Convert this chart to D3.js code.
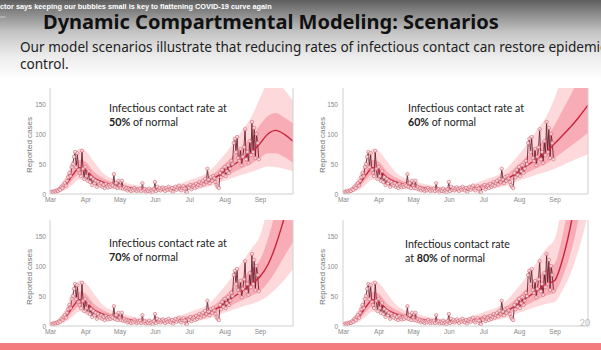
<!DOCTYPE html>
<html><head><meta charset="utf-8">
<script src="https://cdn.jsdelivr.net/npm/d3@7"></script>
<style>body{margin:0;background:#fff;overflow:hidden} svg{display:block}</style>
</head><body>
<script>
// ---------------- DATA ----------------
const observedStart = "2020-03-01";
const observedCases = [
  // March
  3,2,4,3,5,4,6,5,8,7, 12,10,15,18,14,22, 28,35,30,45,50, 62,70,45,68,40, 35,30,72,42,25,
  // April
  45,30,22,38,20,28,15,25,18,22, 12,20,16,14,18,12,15,10,17,13, 11,15,12,16,14,33,12,18,10,22,
  // May
  14,10,22,9,12,8,10,6,9,7, 5,8,6,10,7,5,8,6,9,5, 18,6,8,4,7,5,9,4,6,3,8,
  // June
  20,5,12,7,10,6,9,11,8,5, 10,7,12,8,6,10,4,9,12,7, 11,14,8,6,10,13,9,4,3,12,
  // July
  10,15,8,12,14,10,17,12,15,20, 14,18,22,16,25,20,42,24,18,28, 22,30,26,20,15,12,10,35,28,40,32,
  // August
  45,30,38,48,35,42,55,50,85,92, 70,95,60,55,75,48,62,78,108,58, 70,52,88,65,120,70,110,60,100,85,58
];
const fitDays     = [0, 7, 14, 20, 26, 31, 38, 46, 53, 61, 70, 80, 92, 106, 122, 139, 153, 168, 177];
const fitMedian   = [2, 6, 16, 32, 44, 40, 28, 20, 16, 13, 10, 8, 7, 8, 13, 21, 38, 58, 70];
const fitInnerLo  = [1, 4, 11, 24, 33, 30, 21, 15, 12, 10, 8, 6, 5, 6, 10, 16, 29, 43, 51];
const fitInnerHi  = [3, 8, 22, 42, 57, 54, 38, 27, 21, 17, 13, 10, 9, 10, 17, 28, 50, 78, 95];
const fitOuterLo  = [0.5, 3, 7, 16, 24, 22, 15, 11, 9, 7, 6, 4.5, 4, 4.5, 7, 12, 22, 32, 37];
const fitOuterHi  = [5, 11, 30, 56, 76, 72, 55, 36, 27, 22, 17, 13, 11, 13, 23, 37, 66, 105, 130];

const projDays = [184, 191, 198, 205, 213];
const scenarioRates = ["50%", "60%", "70%", "80%"];
const projMedian  = [[84,100,106,100,88], [84,98,112,128,148], [82,102,135,178,230], [76,112,168,250,380]];
const projInnerLo = [[60,68,68,62,52],    [60,70,80,90,102],   [58,72,92,115,140],   [56,82,122,180,270]];
const projInnerHi = [[115,130,135,128,118],[115,140,165,192,220],[110,145,195,260,340],[104,152,225,335,510]];
const projOuterLo = [[42,46,45,42,38],    [42,48,54,60,66],    [42,50,62,76,95],     [40,60,88,128,185]];
const projOuterHi = [[160,185,190,175,155],[160,200,240,285,330],[150,200,270,360,480],[145,210,310,460,700]];

const yTicks = [0, 50, 100, 150];
const monthLabels = ["Mar","Apr","May","Jun","Jul","Aug","Sep"];
const axisTitle = "Reported cases";

// ---------------- SETUP ----------------
const W = 601, H = 350;
const svg = d3.select("body").append("svg").attr("width", W).attr("height", H);
const defs = svg.append("defs");
const grad = defs.append("linearGradient").attr("id","hdr").attr("x1",0).attr("y1",0).attr("x2",0).attr("y2",1);
[[0,"#5e5e5e"],[0.15,"#858585"],[0.4,"#c4c4c4"],[0.7,"#ececec"],[1,"#ffffff"]]
  .forEach(([o,c]) => grad.append("stop").attr("offset",o).attr("stop-color",c));
svg.append("rect").attr("width",W).attr("height",H).attr("fill","#fff");
svg.append("rect").attr("width",W).attr("height",80).attr("fill","url(#hdr)");

function fitFont(sel, target) {
  const w = sel.node().getComputedTextLength();
  const fs = parseFloat(sel.attr("font-size"));
  sel.attr("font-size", fs * target / w);
}

// ticker
const tick = svg.append("text").attr("x",0).attr("y",8.5).attr("font-family","Liberation Sans, Arial")
  .attr("font-weight","bold").attr("font-size",9).attr("fill","#fff")
  .text("ctor says keeping our bubbles small is key to flattening COVID-19 curve again");
fitFont(tick, 272);
svg.append("text").attr("x",0).attr("y",17.5).attr("font-family","Liberation Sans, Arial")
  .attr("font-size",4).attr("fill","#ddd").text("urs");

// title
const title = svg.append("text").attr("x",43).attr("y",29).attr("font-family","Noto Sans, Open Sans")
  .attr("font-weight","bold").attr("font-size",22).attr("fill","#111")
  .text("Dynamic Compartmental Modeling: Scenarios");
fitFont(title, 456);

// subtitle
const subFont = "Noto Sans, Open Sans";
const probe = svg.append("text").attr("font-family",subFont).attr("font-size",14)
  .text("Our model scenarios illustrate that reducing rates of infectious contact can restore epidemi");
const subSize = 14 * 581 / probe.node().getComputedTextLength();
probe.remove();
svg.append("text").attr("x",20).attr("y",52).attr("font-family",subFont).attr("font-size",subSize)
  .attr("fill","#222").text("Our model scenarios illustrate that reducing rates of infectious contact can restore epidemic");
svg.append("text").attr("x",20).attr("y",69).attr("font-family",subFont).attr("font-size",subSize)
  .attr("fill","#222").text("control.");

// ---------------- PANELS ----------------
const parse = d3.timeParse("%Y-%m-%d");
const t0 = parse(observedStart);
const dayDate = d => d3.timeDay.offset(t0, d);
const obs = observedCases.map((v,i) => ({date: dayDate(i), v}));

const panels = [
  {x0:50, x1:293, y0:194, y1:88, tx:109, ty:112, lines:[["Infectious contact rate at"],[["50%",true],[" of normal",false]]], w:118},
  {x0:343, x1:588, y0:194, y1:88, tx:408, ty:112, lines:[["Infectious contact rate at"],[["60%",true],[" of normal",false]]], w:116},
  {x0:50, x1:293, y0:326, y1:220, tx:109, ty:247, lines:[["Infectious contact rate at"],[["70%",true],[" of normal",false]]], w:118},
  {x0:343, x1:588, y0:326, y1:220, tx:405, ty:248, lines:[["Infectious contact rate"],[["at ",false],["80%",true],[" of normal",false]]], w:105}
];

panels.forEach((p, k) => {
  const g = svg.append("g");
  const x = d3.scaleTime().domain([parse("2020-03-01"), parse("2020-09-30")]).range([p.x0, p.x1]);
  const y = d3.scaleLinear().domain([0, (p.y0 - p.y1) / 0.6]).range([p.y0, p.y1]);

  const cid = "clip" + k;
  defs.append("clipPath").attr("id", cid).append("rect")
    .attr("x", p.x0).attr("y", p.y1).attr("width", p.x1 - p.x0).attr("height", p.y0 - p.y1);

  const days = fitDays.concat(projDays);
  const med = fitMedian.concat(projMedian[k]);
  const iLo = fitInnerLo.concat(projInnerLo[k]);
  const iHi = fitInnerHi.concat(projInnerHi[k]);
  const oLo = fitOuterLo.concat(projOuterLo[k]);
  const oHi = fitOuterHi.concat(projOuterHi[k]);
  const model = days.map((d,i) => ({date: dayDate(d), m: med[i], il: iLo[i], ih: iHi[i], ol: oLo[i], oh: oHi[i]}));

  const cg = g.append("g").attr("clip-path", `url(#${cid})`);
  const curve = d3.curveMonotoneX;
  cg.append("path").datum(model).attr("fill", "#fdd9dc")
    .attr("d", d3.area().curve(curve).x(d => x(d.date)).y0(d => y(d.ol)).y1(d => y(d.oh)));
  cg.append("path").datum(model).attr("fill", "#f8acb5")
    .attr("d", d3.area().curve(curve).x(d => x(d.date)).y0(d => y(d.il)).y1(d => y(d.ih)));

  cg.append("path").datum(obs).attr("fill","none").attr("stroke","#5a0d1c").attr("stroke-width",0.8)
    .attr("d", d3.line().x(d => x(d.date)).y(d => y(d.v)));
  cg.append("path").datum(model).attr("fill","none").attr("stroke","#c8243c").attr("stroke-width",1.4)
    .attr("d", d3.line().curve(curve).x(d => x(d.date)).y(d => y(d.m)));
  cg.selectAll("circle").data(obs).join("circle")
    .attr("cx", d => x(d.date)).attr("cy", d => y(d.v)).attr("r", 1.7)
    .attr("fill", "#fbe4e6").attr("fill-opacity", 0.8).attr("stroke", "#d0606e").attr("stroke-width", 0.6);

  // frame
  const fc = "#cfcfcf";
  g.append("line").attr("x1",p.x0).attr("x2",p.x0).attr("y1",p.y1).attr("y2",p.y0).attr("stroke",fc);
  g.append("line").attr("x1",p.x1).attr("x2",p.x1).attr("y1",p.y1).attr("y2",p.y0).attr("stroke",fc);
  g.append("line").attr("x1",p.x0).attr("x2",p.x1).attr("y1",p.y0).attr("y2",p.y0).attr("stroke",fc);

  // axes
  const xa = g.append("g").attr("transform", `translate(0,${p.y0})`)
    .call(d3.axisBottom(x).ticks(d3.timeMonth.every(1)).tickSize(0).tickPadding(3)
      .tickFormat((d,i) => monthLabels[i] || ""));
  xa.select(".domain").remove();
  xa.selectAll("text").attr("font-family","Liberation Sans, Arial").attr("font-size",6.5).attr("fill","#888");

  const ya = g.append("g").attr("transform", `translate(${p.x0},0)`)
    .call(d3.axisLeft(y).tickValues(yTicks).tickSize(0).tickPadding(k % 2 ? 5 : 4));
  ya.select(".domain").remove();
  ya.selectAll("text").attr("font-family","Liberation Sans, Arial").attr("font-size",6.5).attr("fill","#888");

  g.append("text").attr("transform", `translate(${p.x0 - 18},${(p.y0 + p.y1) / 2 + 4}) rotate(-90)`)
    .attr("text-anchor","middle").attr("font-family","Liberation Sans, Arial").attr("font-size",8)
    .attr("fill","#777").text(axisTitle);

  // annotation
  const ann = g.append("g");
  const l1 = ann.append("text").attr("x", p.tx).attr("y", p.ty).attr("font-family","Lato, Open Sans")
    .attr("font-size", 11).attr("fill","#222").text(p.lines[0][0]);
  fitFont(l1, p.w);
  const fs = l1.attr("font-size");
  const l2 = ann.append("text").attr("x", p.tx).attr("y", p.ty + 14).attr("font-family","Lato, Open Sans")
    .attr("font-size", fs).attr("fill","#222");
  p.lines[1].forEach(([s,b]) => l2.append("tspan").attr("font-weight", b ? "bold" : "normal").text(s));
});

// page number & bottom bar
svg.append("text").attr("x",585).attr("y",326).attr("text-anchor","middle").attr("font-family","Lato, Open Sans")
  .attr("font-size",9).attr("fill","#bbb").text("20");
svg.append("rect").attr("x",0).attr("y",343).attr("width",W).attr("height",7).attr("fill","#f47c7e");
</script>
</body></html>
